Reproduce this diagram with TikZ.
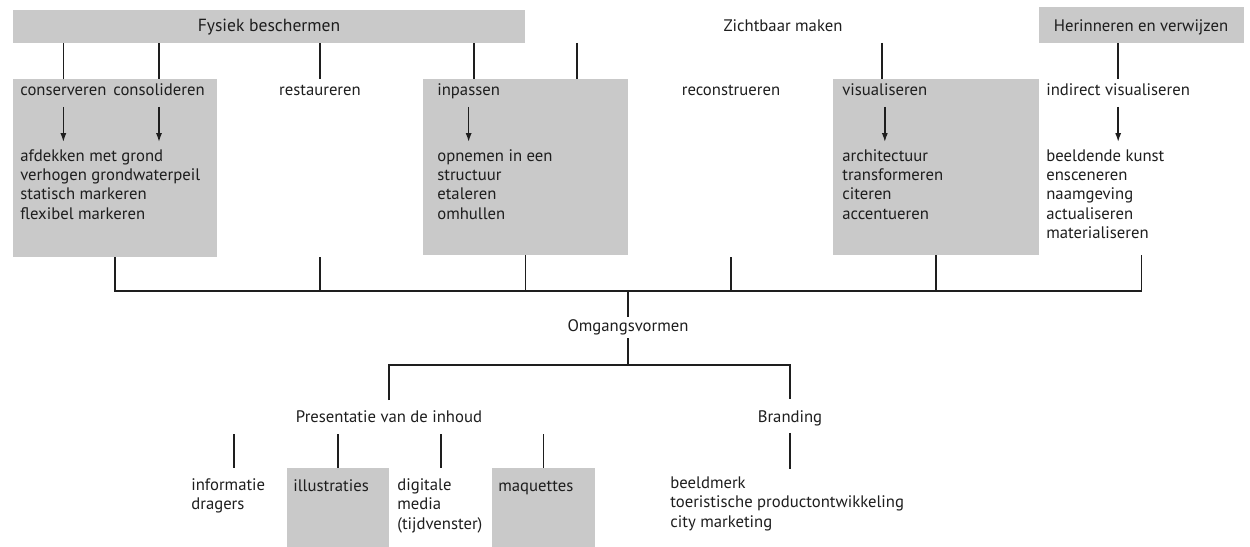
\documentclass[tikz,border=0pt]{standalone}
\usepackage{fontspec}
\setmainfont{PT Sans}
\usepackage{tikz}
\usetikzlibrary{arrows.meta, positioning, fit}
\definecolor{vlakgrijs}{RGB}{201,201,201}
\definecolor{inkt}{RGB}{30,30,30}

\begin{document}
\begin{tikzpicture}[x=0.02cm, y=-0.02cm,
            font=\fontsize{9.5}{11}\selectfont, text=inkt,
            vlak/.style={fill=vlakgrijs, inner sep=0pt},
            lbl/.style={anchor=base west, inner sep=0pt, align=left},
            midtxt/.style={anchor=base, inner sep=0pt},
            lijn/.style={draw=inkt, line width=0.8pt},
            pijl/.style={lijn, -{Latex[length=5pt, width=3.4pt]}}]

            \useasboundingbox (0,0) rectangle (1250,547);

            % bovenste rij
            \node[vlak, fit={(13,10) (525,43)}] (fysiek) {};
            \node[midtxt] (fysiek-t) at (269,32) {\fontsize{10}{11}\selectfont Fysiek beschermen};
            \node[midtxt] (zicht) at (783,32) {Zichtbaar maken};
            \node[vlak, fit={(1039,7) (1244,43)}] (herinneren) {};
            \node[midtxt] (herinneren-t) at (1141,32) {Herinneren en verwijzen};
            \coordinate (zicht-l) at (577,43);
            \coordinate (zicht-r) at (882,43);

            % vlakken
            \node[vlak, fit={(13,79) (217,257)}] (behoud) {};
            \node[vlak, fit={(423,79) (628,255)}] (inpas) {};
            \node[vlak, fit={(833,79) (1039,255)}] (visual) {};
            \coordinate (inpas-a) at (474,79);
            \coordinate (inpas-b) at (577,79);
            \coordinate (visual-a) at (882,79);

            % tweede rij
            \node[lbl] (conserveren) at (20,96) {conserveren};
            \node[lbl] (consolideren) at (113,96) {consolideren};
            \node[midtxt] (restaureren) at (320,96) {restaureren};
            \node[lbl] (inpassen) at (437,96) {inpassen};
            \node[midtxt] (reconstrueren) at (731,96) {reconstrueren};
            \node[lbl] (visualiseren) at (842,96) {visualiseren};
            \node[lbl] (indirect) at (1046,96) {indirect visualiseren};

            % lijsten (base = laatste regel)
            \node[lbl] (behoud-l) at (20,219) {afdekken met grond\\verhogen grondwaterpeil\\statisch markeren\\flexibel markeren};
            \node[lbl] (inpas-l) at (437,219) {opnemen in een\\structuur\\etaleren\\omhullen};
            \node[lbl] (visual-l) at (842,219) {architectuur\\transformeren\\citeren\\accentueren};
            \node[lbl] (indirect-l) at (1046,238.5) {beeldende kunst\\ensceneren\\naamgeving\\actualiseren\\materialiseren};

            \draw[lijn] (conserveren.north |- fysiek.south) -- (conserveren.north |- behoud.north);
            \draw[lijn] (consolideren.north |- fysiek.south) -- (consolideren.north |- behoud.north);
            \draw[lijn] (restaureren |- fysiek.south) -- (restaureren |- behoud.north);
            \draw[lijn] (inpas-a |- fysiek.south) -- (inpas-a);
            \draw[lijn] (zicht-l) -- (inpas-b);
            \draw[lijn] (zicht-r) -- (visual-a);
            \draw[lijn] (indirect.north |- herinneren.south) -- (indirect.north |- visual.north);

            % pijlen
            \coordinate (pijl-van) at (0,107);
            \coordinate (pijl-naar) at (0,142);
            \draw[pijl] (conserveren |- pijl-van) -- (conserveren |- pijl-naar);
            \draw[pijl] (consolideren |- pijl-van) -- (consolideren |- pijl-naar);
            \draw[pijl] (inpassen |- pijl-van) -- (inpassen |- pijl-naar);
            \draw[pijl] (visualiseren |- pijl-van) -- (visualiseren |- pijl-naar);
            \draw[pijl] (indirect |- pijl-van) -- (indirect |- pijl-naar);

            % samenvoegen
            \coordinate (hub) at (628,291);
            \draw[lijn] (behoud.south) |- (hub) -| (herinneren.south |- visual.south);
            \draw[lijn] (restaureren |- behoud.south) -- (restaureren |- hub);
            \draw[lijn] (inpas.south) -- (inpas.south |- hub);
            \draw[lijn] (reconstrueren |- behoud.south) -- (reconstrueren |- hub);
            \draw[lijn] (visual.south) -- (visual.south |- hub);

            \node[midtxt] (omgang) at (628,331) {Omgangsvormen};
            \draw[lijn, shorten >=1pt] (hub) -- (omgang);
            \coordinate (splits) at (628,365);
            \draw[lijn, shorten <=2pt] (omgang) -- (splits);

            \node[midtxt] (presentatie) at (389,422) {Presentatie van de inhoud};
            \node[midtxt] (branding) at (790,422) {Branding};
            \draw[lijn, shorten <=5.5pt, shorten >=6pt] (presentatie.north) |- (splits) -| (branding.north);

            % branding
            \node[lbl] (branding-l) at (670,527) {beeldmerk\\toeristische productontwikkeling\\city marketing};
            \draw[lijn, shorten <=4pt, shorten >=4pt] (branding.south) -- (branding.south |- branding-l.north);

            % presentatie
            \node[vlak, fit={(287,468) (389,547)}] (illustraties-v) {};
            \node[vlak, fit={(492,468) (595,547)}] (maquettes-v) {};
            \node[lbl] (informatie) at (191,509.5) {informatie\\dragers};
            \node[lbl] (illustraties) at (293,491) {illustraties};
            \node[lbl] (digitaal) at (397,529) {digitale\\media\\(tijdvenster)};
            \node[lbl] (maquettes) at (498,491) {maquettes};
            \coordinate (kol-top) at (389,434);
            \coordinate (kol-a) at (234,468);
            \coordinate (kol-c) at (441,468);
            \draw[lijn] (kol-a |- kol-top) -- (kol-a);
            \draw[lijn] (illustraties-v.north |- kol-top) -- (illustraties-v.north);
            \draw[lijn] (kol-c |- kol-top) -- (kol-c);
            \draw[lijn] (maquettes-v.north |- kol-top) -- (maquettes-v.north);
        \end{tikzpicture}
\end{document}
